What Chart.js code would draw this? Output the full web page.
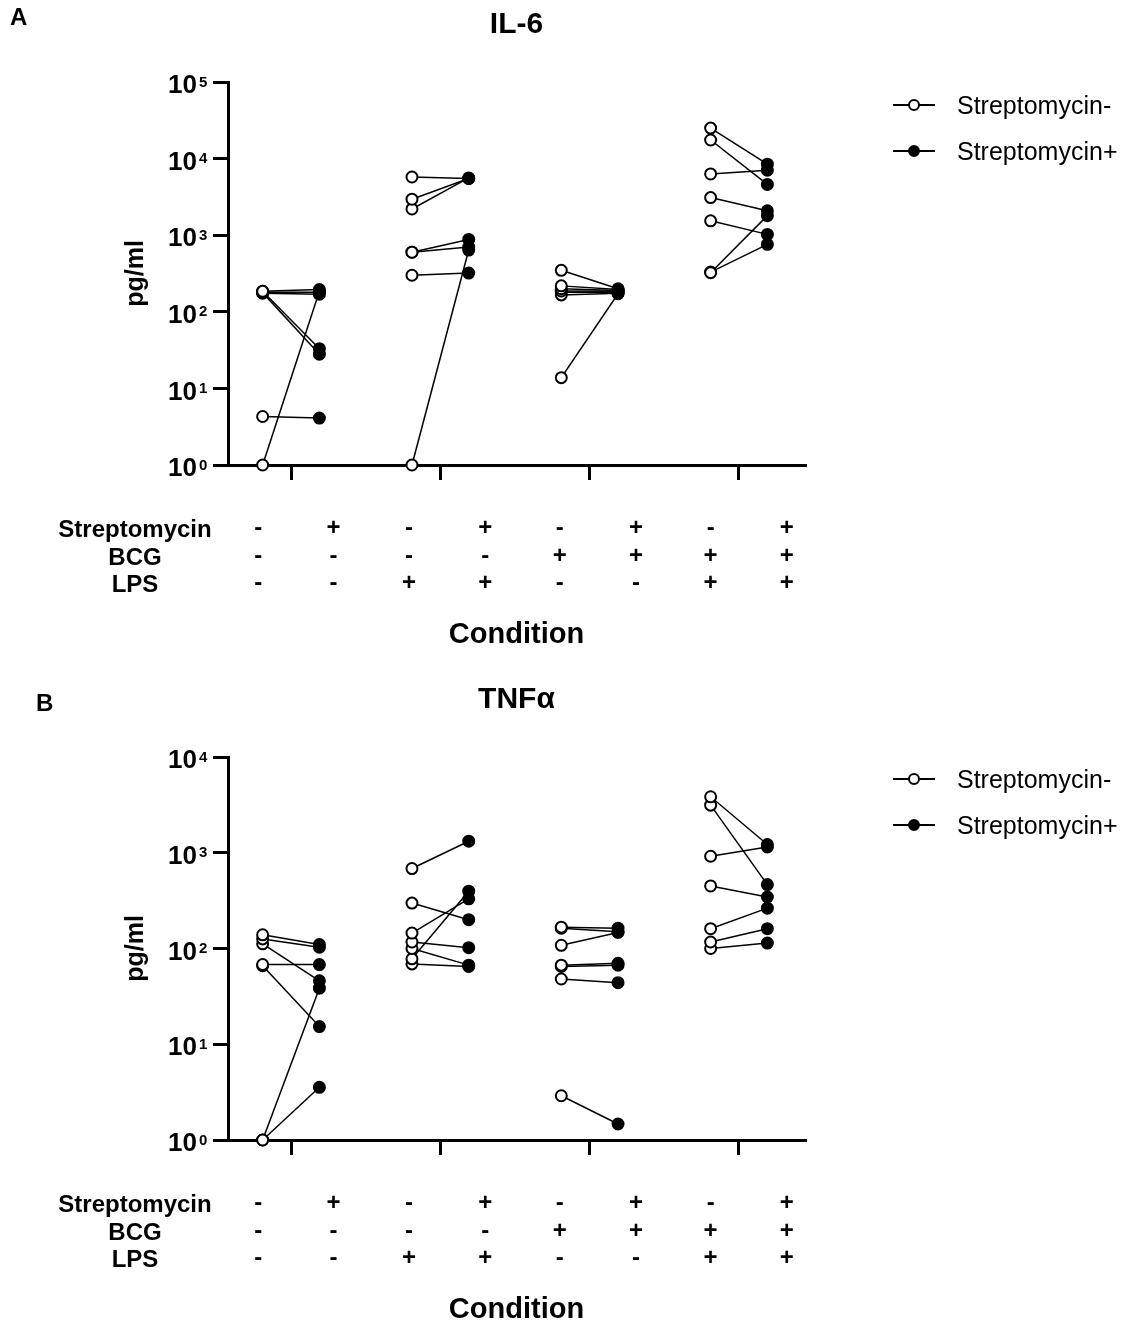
<!DOCTYPE html>
<html lang="en">
<head>
<meta charset="UTF-8">
<title>IL-6 and TNFα by condition</title>
<script src="https://cdn.jsdelivr.net/npm/chart.js"></script>
<style>
    body { margin: 0; background: #fff; overflow: hidden; font-family: 'Liberation Sans', Arial, sans-serif; }
    .panel { position: absolute; left: 0; width: 1133px; height: 660px; }
    .panel canvas { position: absolute; left: 0; top: 0; }
    .tag { position: absolute; font-weight: bold; font-size: 24px; }
    .rowlab { position: absolute; width: 200px; left: 35px; text-align: center; font-weight: bold; font-size: 24px; line-height: 27.5px; }
    .legend { position: absolute; left: 893px; font-size: 25px; }
    .legend div { position: relative; height: 46px; line-height: 46px; padding-left: 64px; white-space: nowrap; }
    .legend .ln { position: absolute; left: 0; top: 22px; width: 42px; height: 2px; background: #000; }
    .legend .dot { position: absolute; left: 15px; top: 17px; width: 8px; height: 8px; border: 2px solid #000; border-radius: 50%; }
</style>
</head>
<body>
<div class="panel" id="panelA" style="top:0">
    <canvas id="chartA" width="1133" height="660"></canvas>
    <div class="tag" style="left:10px;top:3px">A</div>
    <div class="rowlab" style="top:515px">Streptomycin<br>BCG<br>LPS</div>
    <div class="legend" style="top:82px">
        <div><span class="ln"></span><span class="dot" style="background:#fff"></span>Streptomycin-</div>
        <div><span class="ln"></span><span class="dot" style="background:#000"></span>Streptomycin+</div>
    </div>
</div>
<div class="panel" id="panelB" style="top:675px">
    <canvas id="chartB" width="1133" height="660"></canvas>
    <div class="tag" style="left:36px;top:14px">B</div>
    <div class="rowlab" style="top:515px">Streptomycin<br>BCG<br>LPS</div>
    <div class="legend" style="top:81px">
        <div><span class="ln"></span><span class="dot" style="background:#fff"></span>Streptomycin-</div>
        <div><span class="ln"></span><span class="dot" style="background:#000"></span>Streptomycin+</div>
    </div>
</div>
<script>
    // paired donors, one array per group (no BCG/LPS, LPS, BCG, BCG+LPS)
    const il6Minus = [
        [185, 180, 175, 185, 178, 4.3, 1],
        [5750, 2950, 2200, 600, 600, 300, 1],
        [348, 218, 200, 187, 166, 13.8, 180],
        [25000, 17500, 6300, 3100, 1540, 324, 330]
    ];
    const il6Plus = [
        [195, 180, 170, 33, 28, 4.1, 185],
        [5500, 5500, 5600, 880, 700, 320, 640],
        [200, 195, 190, 185, 175, 172, 180],
        [8450, 4600, 7050, 2080, 1025, 1800, 760]
    ];
    const tnfMinus = [
        [139, 126, 112, 68, 66, 1, 1],
        [684, 298, 145, 117, 100, 78, 69],
        [167, 163, 108, 67, 65, 48, 2.9],
        [3840, 3140, 919, 450, 161, 117, 100]
    ];
    const tnfPlus = [
        [110, 103, 46, 68, 15.3, 38.5, 3.55],
        [1320, 200, 330, 102, 67, 397, 65],
        [163, 150, 147, 70, 67, 44, 1.47],
        [1220, 465, 1150, 345, 264, 161, 114]
    ];

    const groups = [1, 2, 3, 4];
    const strepRow = ['-', '+', '-', '+', '-', '+', '-', '+'];
    const bcgRow   = ['-', '-', '-', '-', '+', '+', '+', '+'];
    const lpsRow   = ['-', '-', '+', '+', '-', '-', '+', '+'];
    const conditionTicks = [0.78, 1.285, 1.79, 2.30, 2.80, 3.31, 3.81, 4.32];
    const yTicks = [1, 10, 100, 1000, 10000, 100000];

    const FONT = "'Liberation Sans', Arial, sans-serif";
    const X_MIN = 0.578, X_MAX = 4.442, SHIFT = 0.19;

    // draws the exponent of each 10^n label as a raised small number
    const exponentPlugin = {
        id: 'exponents',
        afterDraw(chart) {
            const s = chart.scales.y;
            const ctx = chart.ctx;
            ctx.save();
            ctx.font = 'bold 15px ' + FONT;
            ctx.fillStyle = '#000';
            ctx.textAlign = 'left';
            ctx.textBaseline = 'top';
            s.ticks.forEach(t => {
                const y = s.getPixelForValue(t.value);
                ctx.fillText(String(Math.round(Math.log10(t.value))), s.right - 29, y - 7);
            });
            ctx.restore();
        }
    };

    function buildDatasets(minus, plus) {
        const sets = [];
        groups.forEach((g, gi) => {
            minus[gi].forEach((v, i) => {
                sets.push({
                    data: [{ x: g - SHIFT, y: v }, { x: g + SHIFT, y: plus[gi][i] }],
                    borderColor: '#000',
                    borderWidth: 1.5,
                    pointRadius: 5.5,
                    pointBorderWidth: 2,
                    pointBorderColor: '#000',
                    pointBackgroundColor: ['#fff', '#000'],
                    clip: false
                });
            });
        });
        return sets;
    }

    function makeChart(id, title, minus, plus, yMax) {
        const ctx = document.getElementById(id).getContext('2d');
        return new Chart(ctx, {
            type: 'line',
            data: { datasets: buildDatasets(minus, plus) },
            plugins: [exponentPlugin],
            options: {
                responsive: false,
                animation: false,
                layout: { padding: { left: 117, right: 328, top: 0, bottom: 5 } },
                plugins: {
                    legend: { display: false },
                    tooltip: { enabled: false },
                    title: {
                        display: true,
                        text: title,
                        fullSize: false,
                        color: '#000',
                        font: { family: FONT, size: 30, weight: 'bold' },
                        padding: { top: 7, bottom: 39 }
                    }
                },
                scales: {
                    y: {
                        type: 'logarithmic',
                        min: 1,
                        max: yMax,
                        afterFit: s => { s.width = 111; },
                        afterBuildTicks: s => {
                            s.ticks = yTicks.filter(v => v <= yMax).map(v => ({ value: v, major: true }));
                        },
                        ticks: {
                            color: '#000',
                            padding: 16,
                            labelOffset: 4,
                            font: { family: FONT, size: 26, weight: 'bold' },
                            callback: () => '10'
                        },
                        grid: { drawOnChartArea: false, tickLength: 15, color: '#000', lineWidth: 3 },
                        border: { color: '#000', width: 3 },
                        title: {
                            display: true,
                            text: 'pg/ml',
                            color: '#000',
                            font: { family: FONT, size: 25, weight: 'bold' },
                            padding: { top: 4, bottom: 4 }
                        }
                    },
                    x: {
                        type: 'linear',
                        position: 'bottom',
                        min: X_MIN,
                        max: X_MAX,
                        afterFit: s => { s.height = 15; },
                        afterBuildTicks: s => { s.ticks = groups.map(v => ({ value: v })); },
                        ticks: { display: false },
                        grid: { drawOnChartArea: false, tickLength: 15, color: '#000', lineWidth: 3 },
                        border: { color: '#000', width: 3 }
                    },
                    x2: {
                        type: 'linear',
                        position: 'bottom',
                        min: X_MIN,
                        max: X_MAX,
                        afterFit: s => { s.height = 175; },
                        afterBuildTicks: s => { s.ticks = conditionTicks.map(v => ({ value: v })); },
                        ticks: {
                            autoSkip: false,
                            maxRotation: 0,
                            padding: 35,
                            color: '#000',
                            font: { family: FONT, size: 24, weight: 'bold', lineHeight: 1.146 },
                            callback: (v, i) => [strepRow[i], bcgRow[i], lpsRow[i]]
                        },
                        grid: { display: false, drawTicks: false },
                        border: { display: false },
                        title: {
                            display: true,
                            text: 'Condition',
                            color: '#000',
                            font: { family: FONT, size: 29, weight: 'bold' },
                            padding: { top: 15, bottom: 3 }
                        }
                    }
                }
            }
        });
    }

    makeChart('chartA', 'IL-6', il6Minus, il6Plus, 100000);
    makeChart('chartB', 'TNFα', tnfMinus, tnfPlus, 10000);
</script>
</body>
</html>
